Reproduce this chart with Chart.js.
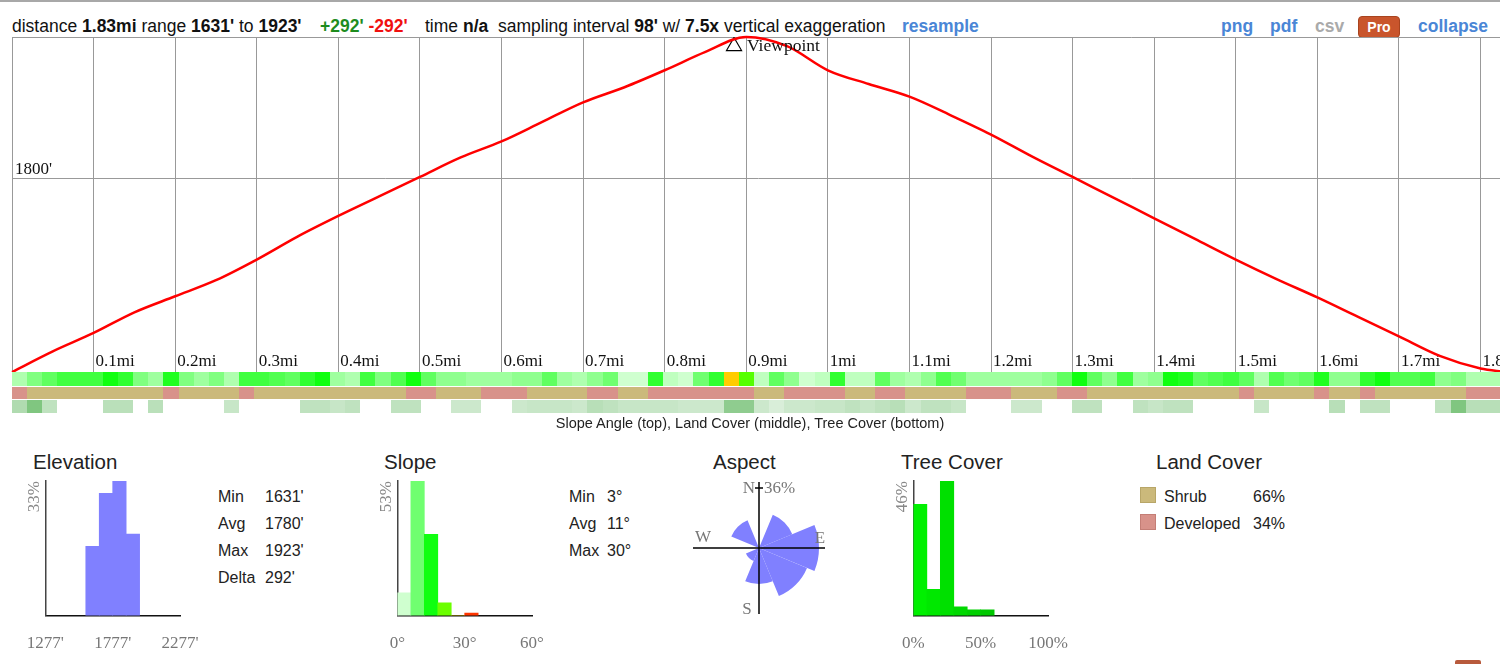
<!DOCTYPE html>
<html>
<head>
<meta charset="utf-8">
<script src="https://cdn.jsdelivr.net/npm/chart.js@4.4.1/dist/chart.umd.min.js"></script>
<style>
  body { margin: 0; width: 1500px; height: 664px; overflow: hidden; background: #fff; position: relative;
         font-family: "Liberation Sans", Arial, sans-serif; color: #111; }
  .abs { position: absolute; white-space: pre; }
  .hdr { top: 15px; font-size: 17.5px; line-height: 22px; }
  .lnk { color: #4a86d6; font-weight: bold; }
  .ttl { top: 450px; font-size: 20.5px; line-height: 24px; color: #222; }
  .stats { top: 483px; font-size: 16px; line-height: 27px; color: #222; }
  .stats td { padding: 0; }
  canvas { position: absolute; }
</style>
</head>
<body>
<div class="abs" style="left:0;top:0;width:1500px;height:2px;background:#a8a8a8"></div>

<div class="abs hdr" style="left:12px">distance <b>1.83mi</b> range <b>1631'</b> to <b>1923'</b></div>
<div class="abs hdr" style="left:320px"><b style="color:#1e8c1e">+292'</b> <b style="color:#f01010">-292'</b></div>
<div class="abs hdr" style="left:425px">time <b>n/a</b></div>
<div class="abs hdr" style="left:498px">sampling interval <b>98'</b> w/ <b>7.5x</b> vertical exaggeration</div>
<div class="abs hdr lnk" style="left:902px">resample</div>
<div class="abs hdr lnk" style="left:1221px">png</div>
<div class="abs hdr lnk" style="left:1270px">pdf</div>
<div class="abs hdr" style="left:1315px;color:#aaa;font-weight:bold">csv</div>
<div class="abs" style="left:1358px;top:16px;width:40px;height:20px;background:#c9552c;border:1px solid #a8441f;border-radius:4px;color:#fff;font-weight:bold;font-size:14px;line-height:20px;text-align:center">Pro</div>
<div class="abs hdr lnk" style="left:1418px">collapse</div>

<canvas id="profile" width="1525" height="394" style="left:0;top:23px"></canvas>
<div class="abs" style="left:0;top:415px;width:1500px;text-align:center;font-size:14.5px;line-height:16px;color:#222">Slope Angle (top), Land Cover (middle), Tree Cover (bottom)</div>

<div class="abs ttl" style="left:33px">Elevation</div>
<canvas id="elevHist" width="184" height="181" style="left:21px;top:476px"></canvas>
<table class="abs stats" style="left:218px;border-collapse:collapse">
  <tr><td style="width:47px">Min</td><td>1631'</td></tr>
  <tr><td>Avg</td><td>1780'</td></tr>
  <tr><td>Max</td><td>1923'</td></tr>
  <tr><td>Delta</td><td>292'</td></tr>
</table>

<div class="abs ttl" style="left:384px">Slope</div>
<canvas id="slopeHist" width="184" height="181" style="left:373px;top:476px"></canvas>
<table class="abs stats" style="left:569px;border-collapse:collapse">
  <tr><td style="width:38px">Min</td><td>3°</td></tr>
  <tr><td>Avg</td><td>11°</td></tr>
  <tr><td>Max</td><td>30°</td></tr>
</table>

<div class="abs ttl" style="left:713px">Aspect</div>
<canvas id="aspect" width="160" height="160" style="left:679px;top:468px"></canvas>

<div class="abs ttl" style="left:901px">Tree Cover</div>
<canvas id="treeHist" width="184" height="181" style="left:889px;top:476px"></canvas>

<div class="abs ttl" style="left:1156px">Land Cover</div>
<div class="abs" style="left:1140px;top:487px;width:14px;height:14px;background:#cbb97b;border:1px solid #b8a668"></div>
<div class="abs" style="left:1140px;top:514px;width:14px;height:14px;background:#d8928a;border:1px solid #c47e76"></div>
<table class="abs stats" style="left:1164px;border-collapse:collapse">
  <tr><td style="width:89px">Shrub</td><td>66%</td></tr>
  <tr><td>Developed</td><td>34%</td></tr>
</table>
<div class="abs" style="left:1455px;top:660px;width:26px;height:4px;background:#b85a3c;border-radius:2px 2px 0 0"></div>

<script>
// elevation profile (miles, feet)
const distMi = [0, 0.05, 0.1, 0.15, 0.2, 0.25, 0.3, 0.35, 0.4, 0.45, 0.5, 0.55, 0.6, 0.65, 0.7, 0.75, 0.8, 0.85, 0.9,
  0.95, 1, 1.05, 1.1, 1.15, 1.2, 1.25, 1.3, 1.35, 1.4, 1.45, 1.5, 1.55, 1.6, 1.65, 1.7, 1.75, 1.8, 1.83];
const elevFt = [1631, 1649, 1665, 1683, 1697, 1711, 1729, 1749, 1767, 1784, 1801, 1818, 1832, 1849, 1866, 1879, 1894, 1910, 1923,
  1915, 1894, 1882, 1871, 1855, 1838, 1819, 1801, 1783, 1765, 1747, 1729, 1712, 1696, 1679, 1662, 1645, 1634, 1631];
const totalMi = 1.83;
const yTicks = [1800, 1923];
const viewpointMi = 0.885;
const viewpointFt = 1915;

// strip cells, one per 98' sample
const cellMi = 98 / 5280;
const slopeDeg = [5, 8, 10, 12, 12, 12, 15, 13, 8, 6, 14, 8, 6, 8, 5, 12, 12, 11, 10, 13,
  15, 6, 5, 12, 8, 11, 15, 10, 7, 7, 6, 6, 6, 7, 7, 10, 6, 5, 7, 9,
  3, 3, 13, 4, 3, 9, 13, 28, 20, 4, 10, 7, 3, 4, 13, 4, 4, 10, 6, 5,
  7, 11, 9, 6, 6, 6, 6, 6, 7, 10, 15, 10, 7, 12, 6, 7, 15, 14, 10, 11,
  12, 10, 5, 11, 9, 10, 14, 7, 7, 13, 15, 11, 11, 12, 7, 8, 5, 5, 5];
// 0 = shrub, 1 = developed
const landCover = [1, 0, 0, 0, 0, 0, 0, 0, 0, 0, 1, 0, 0, 0, 0, 1, 0, 0, 0, 0,
  0, 0, 0, 0, 0, 0, 1, 1, 0, 0, 0, 1, 1, 1, 0, 0, 0, 0, 1, 1,
  0, 0, 1, 1, 1, 1, 1, 1, 1, 0, 0, 1, 1, 1, 1, 0, 0, 1, 1, 0,
  0, 0, 0, 1, 1, 1, 0, 0, 0, 1, 1, 0, 0, 0, 0, 0, 0, 0, 0, 0,
  0, 1, 0, 0, 0, 0, 1, 0, 0, 1, 0, 0, 0, 0, 0, 0, 1, 1, 1];
const treeCover = [31, 50, 25, 0, 0, 0, 27, 27, 0, 27, 0, 0, 0, 0, 22, 0, 0, 0, 0, 25,
  25, 22, 25, 0, 0, 25, 25, 0, 0, 20, 20, 0, 0, 20, 22, 22, 22, 20, 28, 25,
  22, 22, 22, 22, 20, 20, 20, 44, 44, 20, 15, 20, 20, 22, 22, 25, 22, 25, 28, 20,
  25, 25, 22, 0, 0, 0, 20, 20, 0, 0, 25, 25, 0, 0, 25, 22, 25, 25, 0, 0,
  0, 0, 22, 0, 0, 0, 0, 28, 0, 25, 25, 0, 0, 0, 25, 50, 28, 28, 28];
const landColors = ['#cbb97b', '#d8928a'];

// histograms (bin centres, percent)
const elevBins = [1627, 1727, 1827, 1927];
const elevPct = [17, 30, 33, 20];
const elevAxis = [1277, 1777, 2277];
const slopeBins = [3, 9, 15, 21, 27, 33];
const slopePct = [9, 53, 32, 5, 0, 1];
const slopeAxis = [0, 30, 60];
const treeBins = [5, 15, 25, 35, 45, 55];
const treePct = [38, 9, 46, 3, 2, 2];
const treeAxis = [0, 50, 100];

// aspect rose
const aspectDirs = ['N', 'NE', 'E', 'SE', 'S', 'SW', 'W', 'NW'];
const aspectPct = [0, 13, 36, 27, 13, 2, 0, 9];

const serif = '"Liberation Serif", "Times New Roman", serif';

function slopeColor(s) {
  let r, g = 255;
  if (s <= 16) { r = 255 * (1 - s / 16); return `rgb(${Math.round(r)},255,${Math.round(r)})`; }
  if (s <= 22) { r = 128 * (s - 16) / 6; return `rgb(${Math.round(r)},255,0)`; }
  if (s <= 28) { r = 128 + 127 * (s - 22) / 6; g = 255 - 51 * (s - 22) / 6; return `rgb(${Math.round(r)},${Math.round(g)},0)`; }
  g = Math.max(0, 204 - (s - 28) * 30);
  return `rgb(255,${Math.round(g)},0)`;
}
function treeColor(v) {
  const f = v / 100;
  return `rgb(${Math.round(255 * (1 - f))},${Math.round(255 - 115 * f)},${Math.round(255 * (1 - f))})`;
}

const stripPlugin = {
  id: 'strip',
  afterDraw(chart) {
    const { ctx, chartArea } = chart;
    const x = chart.scales.x;
    const top = chartArea.bottom;
    ctx.save();
    for (let i = 0; i < slopeDeg.length; i++) {
      const x0 = Math.round(x.getPixelForValue(i * cellMi));
      const x1 = Math.round(x.getPixelForValue((i + 1) * cellMi));
      ctx.fillStyle = slopeColor(slopeDeg[i]);
      ctx.fillRect(x0, top, x1 - x0, 14);
      ctx.fillStyle = landColors[landCover[i]];
      ctx.fillRect(x0, top + 15, x1 - x0, 12);
      if (treeCover[i] > 0) {
        ctx.fillStyle = treeColor(treeCover[i]);
        ctx.fillRect(x0, top + 28, x1 - x0, 13);
      }
    }
    ctx.restore();
  }
};

const viewpointLabel = {
  id: 'viewpointLabel',
  afterDatasetsDraw(chart) {
    const { ctx } = chart;
    const px = chart.scales.x.getPixelForValue(viewpointMi);
    const py = chart.scales.y.getPixelForValue(viewpointFt);
    ctx.save();
    ctx.font = '17.5px ' + serif;
    ctx.fillStyle = '#111';
    ctx.textBaseline = 'alphabetic';
    ctx.fillText('Viewpoint', px + 13, py + 5);
    ctx.restore();
  }
};

new Chart(document.getElementById('profile'), {
  type: 'line',
  data: {
    datasets: [
      {
        data: distMi.map((d, i) => ({ x: d, y: elevFt[i] })),
        borderColor: '#ff0000', borderWidth: 2.5, pointRadius: 0,
        cubicInterpolationMode: 'monotone', fill: false, clip: false
      },
      {
        type: 'scatter',
        data: [{ x: viewpointMi, y: viewpointFt }],
        pointStyle: 'triangle', pointRadius: 8.7, borderWidth: 1.2,
        borderColor: '#000', backgroundColor: 'rgba(0,0,0,0)'
      }
    ]
  },
  options: {
    responsive: false,
    animation: false,
    layout: { padding: { left: 6, top: 14, right: 20, bottom: 45 } },
    plugins: { legend: { display: false }, tooltip: { enabled: false } },
    scales: {
      x: {
        type: 'linear', min: 0, max: totalMi,
        grid: { color: '#999', drawTicks: false },
        border: { display: false },
        ticks: {
          stepSize: 0.1, includeBounds: false, mirror: true, align: 'start', labelOffset: 2, padding: 0,
          maxRotation: 0, autoSkip: false, color: '#111', font: { family: serif, size: 17 },
          callback: v => v === 0 ? '' : (+v.toFixed(1)) + 'mi'
        }
      },
      y: {
        min: 1631, max: 1923,
        afterBuildTicks: a => { a.ticks = yTicks.map(v => ({ value: v })); },
        grid: { color: '#999', drawTicks: false },
        border: { display: false },
        ticks: {
          mirror: true, padding: 3, labelOffset: -9, color: '#111', font: { family: serif, size: 17 },
          callback: v => v === 1800 ? "1800'" : ''
        }
      }
    }
  },
  plugins: [stripPlugin, viewpointLabel]
});

function histogram(id, centers, values, colors, xAxis, suffix) {
  const maxV = Math.max(...values);
  return new Chart(document.getElementById(id), {
    type: 'bar',
    data: {
      datasets: [{
        data: centers.map((c, i) => ({ x: c, y: values[i] })),
        backgroundColor: colors, borderWidth: 0,
        barPercentage: 1, categoryPercentage: 1
      }]
    },
    options: {
      responsive: false,
      animation: false,
      layout: { padding: { top: 5, right: 25 } },
      plugins: { legend: { display: false }, tooltip: { enabled: false } },
      scales: {
        x: {
          type: 'linear', min: xAxis[0], max: xAxis[xAxis.length - 1], offset: false,
          afterBuildTicks: a => { a.ticks = xAxis.map(v => ({ value: v })); },
          grid: { display: false, drawTicks: true, tickLength: 15 },
          border: { color: '#111', width: 1.5 },
          ticks: { padding: 3, maxRotation: 0, autoSkip: false, color: '#777',
                   font: { family: serif, size: 17 }, callback: v => v + suffix }
        },
        y: {
          min: 0, max: maxV,
          grid: { display: false, drawTicks: false },
          border: { color: '#444', width: 1.5 },
          ticks: { display: false },
          title: { display: true, text: maxV + '%', align: 'end', color: '#888',
                   font: { family: serif, size: 17 }, padding: { top: 3, bottom: 1 } }
        }
      }
    }
  });
}

histogram('elevHist', elevBins, elevPct, '#8080ff', elevAxis, "'");
histogram('slopeHist', slopeBins, slopePct, slopeBins.map(slopeColor), slopeAxis, '°');
histogram('treeHist', treeBins, treePct, treeBins.map((b, i) => `rgb(0,${240 - i * 8},0)`), treeAxis, '%');

const compassPlugin = {
  id: 'compass',
  afterDatasetsDraw(chart) {
    const r = chart.scales.r;
    const { ctx } = chart;
    const xc = r.xCenter, yc = r.yCenter, len = r.drawingArea + 6;
    ctx.save();
    ctx.strokeStyle = '#000';
    ctx.lineWidth = 1.5;
    ctx.beginPath();
    ctx.moveTo(xc - len, yc); ctx.lineTo(xc + len, yc);
    ctx.moveTo(xc, yc - len); ctx.lineTo(xc, yc + len);
    ctx.moveTo(xc - 4, yc - r.drawingArea); ctx.lineTo(xc + 4, yc - r.drawingArea);
    ctx.stroke();
    ctx.font = '17px ' + serif;
    ctx.fillStyle = '#777';
    ctx.textBaseline = 'middle';
    ctx.textAlign = 'right';
    ctx.fillText('N', xc - 4, yc - 59);
    ctx.textAlign = 'left';
    ctx.fillText(Math.max(...aspectPct) + '%', xc + 5, yc - 59);
    ctx.textAlign = 'center';
    ctx.fillText('W', xc - 56, yc - 10);
    ctx.fillText('E', xc + 61, yc - 9);
    ctx.fillText('S', xc - 12, yc + 62);
    ctx.restore();
  }
};

new Chart(document.getElementById('aspect'), {
  type: 'polarArea',
  data: {
    labels: aspectDirs,
    datasets: [{ data: aspectPct.map(Math.sqrt), backgroundColor: '#8080ff', borderWidth: 0 }]
  },
  options: {
    responsive: false,
    animation: false,
    layout: { padding: 20 },
    plugins: { legend: { display: false }, tooltip: { enabled: false } },
    scales: {
      r: {
        min: 0, max: Math.sqrt(Math.max(...aspectPct)), startAngle: -22.5,
        ticks: { display: false }, grid: { display: false },
        angleLines: { display: false }, pointLabels: { display: false }
      }
    }
  },
  plugins: [compassPlugin]
});
</script>
</body>
</html>
